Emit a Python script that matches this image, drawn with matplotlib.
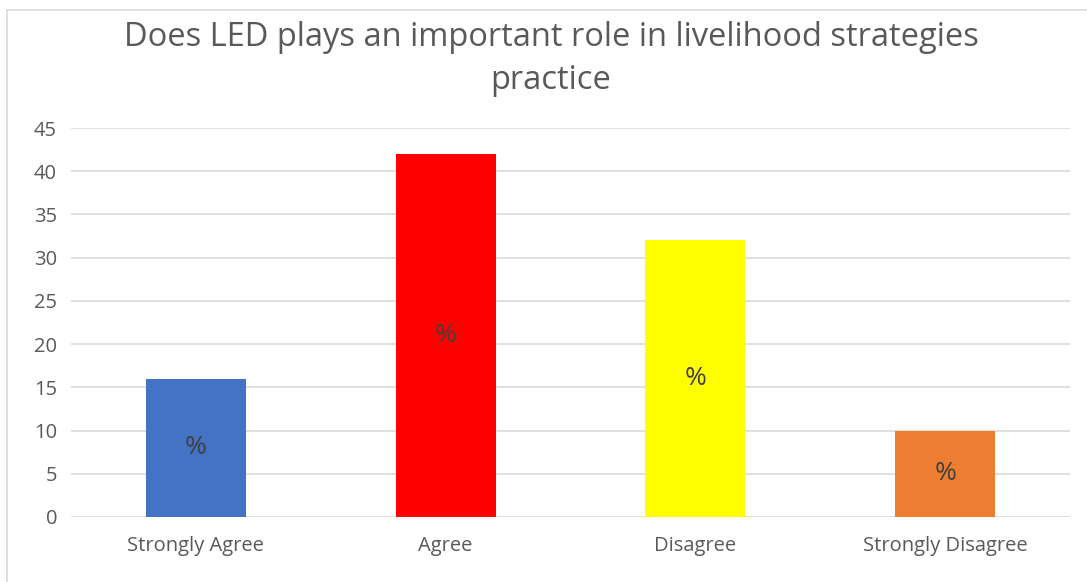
import matplotlib.pyplot as plt
from matplotlib.lines import Line2D

# survey responses (percent)
categories = ["Strongly Agree", "Agree", "Disagree", "Strongly Disagree"]
values = [16, 42, 32, 10]
bar_labels = ["%", "%", "%", "%"]
colors = ["#4472C4", "#FF0000", "#FFFF00", "#ED7D31"]
yticks = list(range(0, 50, 5))

plt.rcParams["font.family"] = ["Open Sans", "DejaVu Sans"]
text_color = "#595959"

fig = plt.figure(figsize=(10.87, 5.82), dpi=100)
ax = fig.add_axes([71 / 1087, 65 / 582, 999 / 1087, 389 / 582])

x = range(len(categories))
bars = ax.bar(x, values, width=0.4, color=colors, zorder=3)
for b, lab in zip(bars, bar_labels):
    ax.text(b.get_x() + b.get_width() / 2, b.get_height() / 2, lab,
            ha="center", va="center", fontsize=19, color="#404040", zorder=4)

ax.set_xlim(-0.5, len(categories) - 0.5)
ax.set_ylim(0, 45)
ax.set_yticks(yticks)
ax.set_xticks(list(x))
ax.set_xticklabels(categories)
ax.tick_params(axis="both", length=0, labelsize=14.5, colors=text_color)
ax.tick_params(axis="y", pad=10)
ax.tick_params(axis="x", pad=14)
for lab in ax.get_yticklabels():
    lab.set_horizontalalignment("right")
ax.grid(axis="y", color="#D9D9D9", linewidth=1.2, zorder=0)
for s in ax.spines.values():
    s.set_visible(False)

fig.text(551 / 1087, 1 - 59 / 582,
         "Does LED plays an important role in livelihood strategies\npractice",
         ha="center", va="center", fontsize=23.5, color=text_color, linespacing=1.42)

# chart frame edges
fig.add_artist(Line2D([7 / 1087, 7 / 1087], [0, 1 - 10 / 582], transform=fig.transFigure,
                      color="#D9D9D9", linewidth=1.2))
fig.add_artist(Line2D([7 / 1087, 1], [1 - 10 / 582, 1 - 10 / 582], transform=fig.transFigure,
                      color="#D9D9D9", linewidth=1.2))

fig.savefig("out.png", dpi=100)
